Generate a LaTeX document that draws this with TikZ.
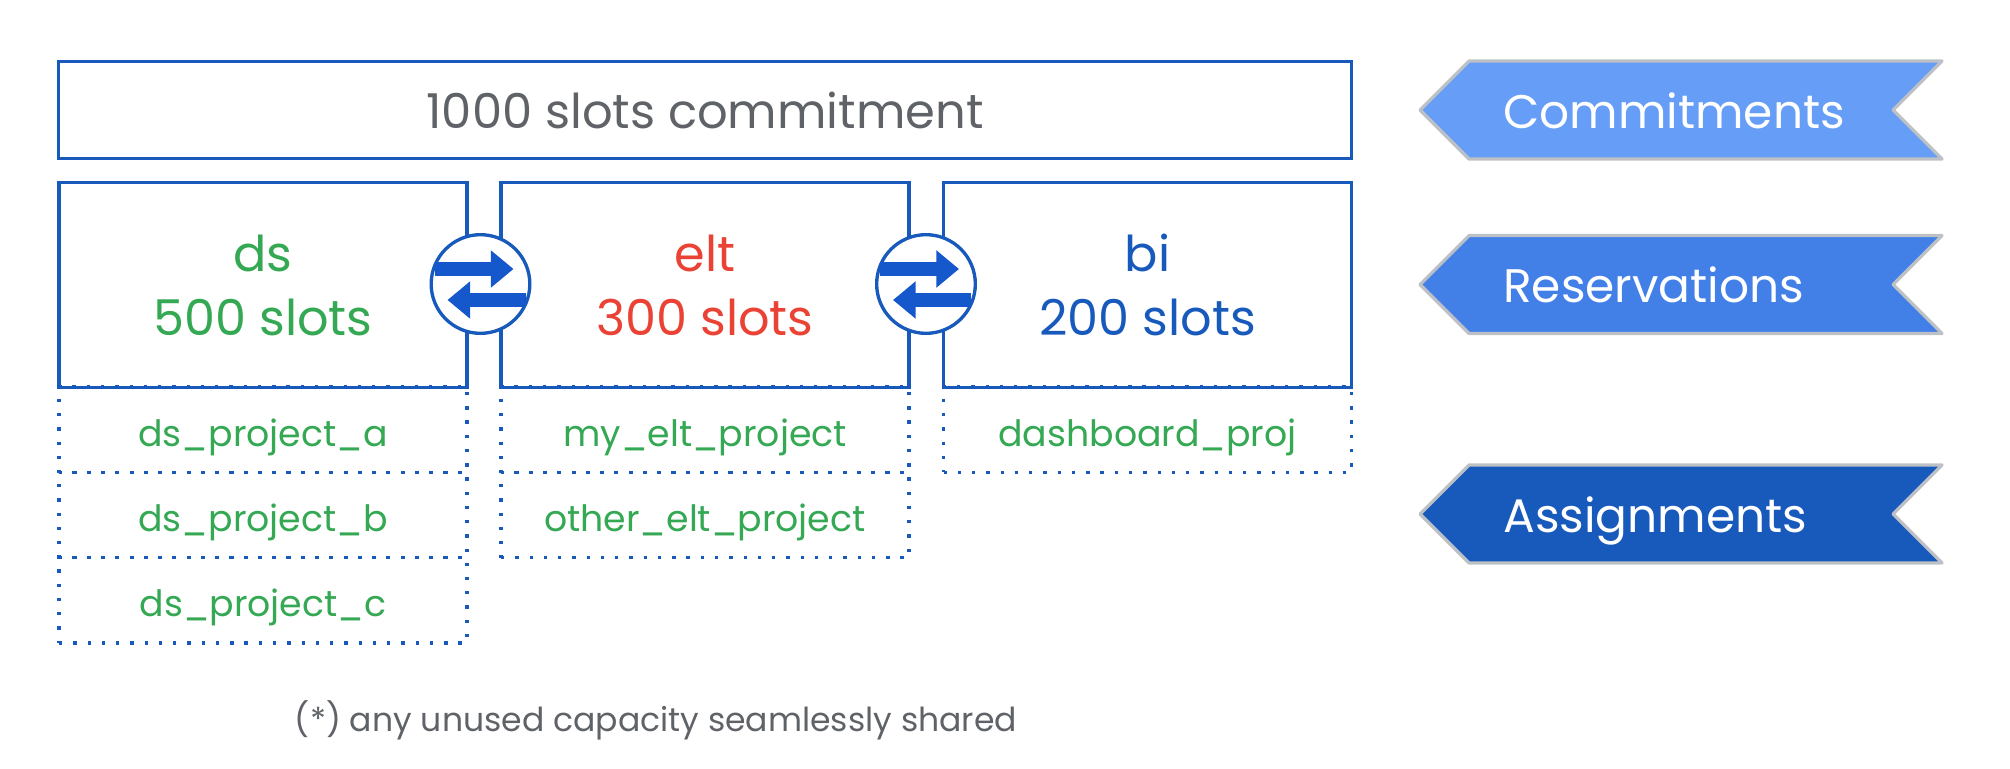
\documentclass[tikz,border=0pt]{standalone}
\usepackage{fontspec}
\setmainfont{Poppins}
\usetikzlibrary{arrows.meta}

\definecolor{boxblue}{HTML}{185ABC}
\definecolor{arrowblue}{HTML}{1558CC}
\definecolor{slotgreen}{HTML}{34A853}
\definecolor{slotred}{HTML}{EA4335}
\definecolor{notegray}{HTML}{5F6368}
\definecolor{bannergray}{HTML}{BDC1C6}
\definecolor{commitblue}{HTML}{669DF6}
\definecolor{reserveblue}{HTML}{4280E8}

\tikzset{
	slotbox/.style = {draw = boxblue, line width = 2.5pt, outer sep = 0pt, minimum height = 153.5pt, inner sep = 0pt, align = center, font = \fontsize{37pt}{48pt}\selectfont},
	projbox/.style = {draw = boxblue, line width = 2.5pt, dash pattern = on 2.5pt off 8.2pt, anchor = north, outer sep = 0pt, minimum width = 306pt, minimum height = 64pt, inner sep = 0pt, text height = 24.8pt, text depth = 0pt, text = slotgreen, font = \fontsize{27.2pt}{32pt}\selectfont},
	swapnode/.style = {circle, draw = boxblue, fill = white, line width = 2.5pt, outer sep = 0pt, minimum size = 74pt, inner sep = 0pt},
	swaparrow/.style = {draw = arrowblue, line width = 10.5pt, -{Triangle[length = 17pt, width = 27pt]}},
	banner/.style = {draw = bannergray, line width = 2.4pt, line join = round},
}

\begin{document}
\begin{tikzpicture}[x = 0.75pt, y = -0.75pt]

	\useasboundingbox (0, 0) rectangle (2010, 768);

	% Commitment

	\node [draw = boxblue, line width = 2.5pt, outer sep = 0pt, minimum width = 970pt, minimum height = 73pt, inner sep = 0pt, text = notegray, font = \fontsize{36pt}{48pt}\selectfont] (commitment) at (705, 110) {1000 slots commitment};

	% Reservations

	\node [slotbox, minimum width = 306pt, text = slotgreen] (ds) at (263, 285) {ds\\500 slots};
	\node [slotbox, minimum width = 306pt, text = slotred] (elt) at (705, 285) {elt\\300 slots};
	\node [slotbox, minimum width = 306pt, text = boxblue] (bi) at (1147.5, 285) {bi\\200 slots};

	% Assignments

	\node [projbox] (dsa) at (263, 387) {ds\_project\_a};
	\node [projbox] (dsb) at (263, 472.3) {ds\_project\_b};
	\node [projbox] (dsc) at (263, 557.6) {ds\_project\_c};
	\node [projbox] (eltmy) at (705, 387) {my\_elt\_project};
	\node [projbox] (eltother) at (705, 472.3) {other\_elt\_project};
	\node [projbox] (bidash) at (1147.5, 387) {dashboard\_proj};

	% Sharing between reservations

	\node [swapnode] (swapa) at (480.5, 284) {};
	\node [swapnode] (swapb) at (926, 284) {};

	\foreach \name in {swapa, swapb} {
		\draw [swaparrow] ([shift = {(-46, -15)}] \name.center) -- ([shift = {(33, -15)}] \name.center);
		\draw [swaparrow] ([shift = {(45, 16)}] \name.center) -- ([shift = {(-33, 16)}] \name.center);
	}

	% Banners on the right

	\foreach \ypos/\fillcol/\name/\word in {110/commitblue/commitments/Commitments, 284.5/reserveblue/reservations/Reservations, 514/boxblue/assignments/Assignments} {
		\draw [banner, fill = \fillcol] (1420, \ypos) -- (1469, \ypos - 49) -- (1942, \ypos - 49) -- (1893, \ypos) -- (1942, \ypos + 49) -- (1469, \ypos + 49) -- cycle;
		\node [anchor = base west, text = white, inner sep = 0pt, font = \fontsize{35.3pt}{48pt}\selectfont] (\name) at (1503, \ypos + 18) {\word};
	}

	% Note

	\node [anchor = base, text = notegray, inner sep = 0pt, font = \fontsize{24.8pt}{30pt}\selectfont] (note) at (656, 731) {(*) any unused capacity seamlessly shared};

\end{tikzpicture}
\end{document}
